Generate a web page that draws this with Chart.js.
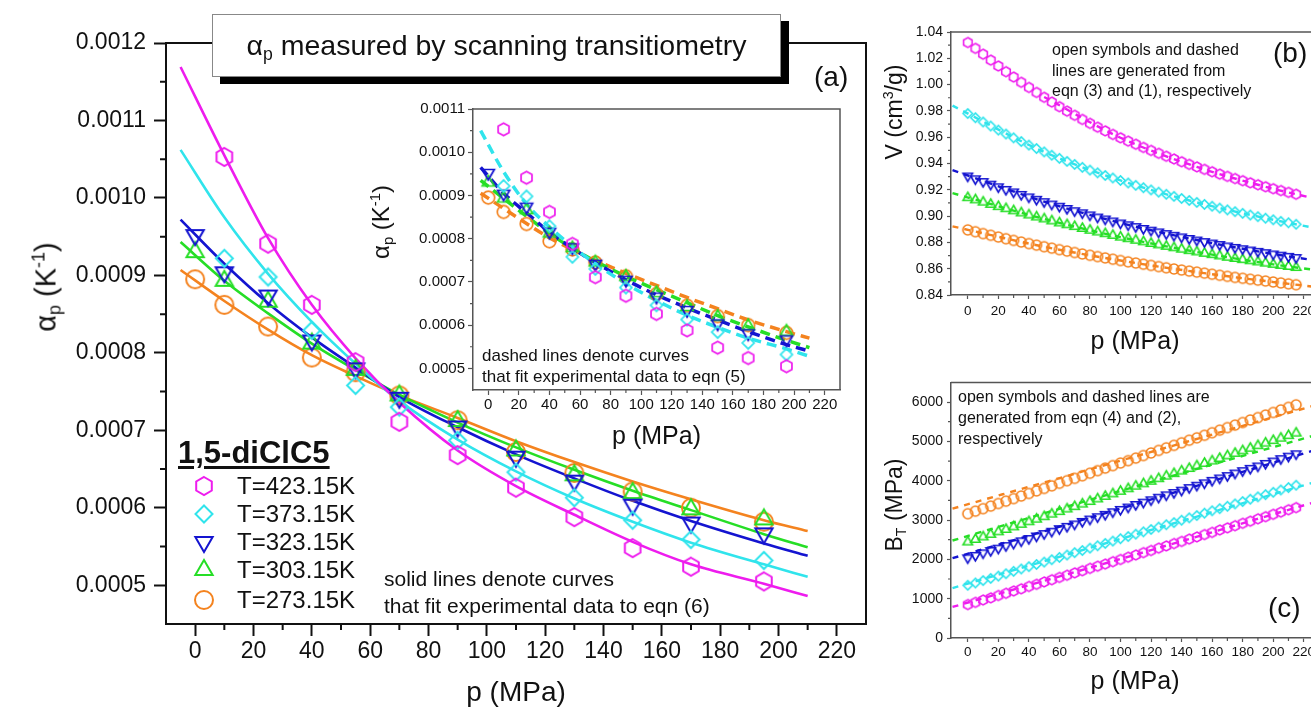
<!DOCTYPE html>
<html lang="en">
<head>
<meta charset="utf-8">
<title>alpha_p, V and B_T of 1,5-diClC5</title>
<script src="https://cdn.jsdelivr.net/npm/chart.js@4.4.1/dist/chart.umd.min.js"></script>
<style>
  html, body { margin: 0; padding: 0; overflow: hidden; background: #fff; }
  body { position: relative; width: 1311px; height: 710px; font-family: 'Liberation Sans', Arial, sans-serif; color: #111; }
  canvas { position: absolute; }
  .t { position: absolute; white-space: nowrap; line-height: 1; }
  .yt { position: absolute; white-space: nowrap; line-height: 1; transform: translate(-50%, -50%) rotate(-90deg); }
  sub { font-size: 0.62em; vertical-align: -0.3em; line-height: 0; }
  sup { font-size: 0.62em; vertical-align: 0.6em; line-height: 0; }
  #ttl { position: absolute; left: 212px; top: 14px; width: 569px; height: 63px; box-sizing: border-box;
         border: 1px solid #888; background: #fff; box-shadow: 8px 7px 0 #000;
         font-size: 28.5px; line-height: 60px; text-align: center; }
  #leg { left: 178px; top: 437px; font-size: 31px; font-weight: bold;
         text-decoration: underline; text-decoration-thickness: 2.5px; text-underline-offset: 3px; }
</style>
</head>
<body>
<canvas id="cA" width="890" height="710" style="left:0;top:0"></canvas>
<canvas id="cIn" width="450" height="370" style="left:410px;top:90px"></canvas>
<canvas id="cB" width="450" height="370" style="left:880px;top:0"></canvas>
<canvas id="cC" width="450" height="340" style="left:880px;top:370px"></canvas>

<div id="ttl">&alpha;<sub>p</sub> measured by scanning transitiometry</div>
<div class="t" style="left:814px;top:63px;font-size:28px">(a)</div>
<div class="yt" style="left:46px;top:287px;font-size:29px">&alpha;<sub>p</sub> (K<sup>-1</sup>)</div>
<div class="yt" style="left:381px;top:222px;font-size:24px">&alpha;<sub>p</sub> (K<sup>-1</sup>)</div>

<div class="t" id="leg">1,5-diClC5</div>
<div class="t" style="left:237px;top:474px;font-size:24px">T=423.15K</div>
<div class="t" style="left:237px;top:502px;font-size:24px">T=373.15K</div>
<div class="t" style="left:237px;top:530px;font-size:24px">T=323.15K</div>
<div class="t" style="left:237px;top:558px;font-size:24px">T=303.15K</div>
<div class="t" style="left:237px;top:588px;font-size:24px">T=273.15K</div>

<div class="t" style="left:384px;top:568px;font-size:21px">solid lines denote curves</div>
<div class="t" style="left:384px;top:595px;font-size:21px">that fit experimental data to eqn (6)</div>
<div class="t" style="left:482px;top:347px;font-size:17px">dashed lines denote curves</div>
<div class="t" style="left:482px;top:368px;font-size:17px">that fit experimental data to eqn (5)</div>

<div class="yt" style="left:894px;top:112px;font-size:23px">V (cm<sup>3</sup>/g)</div>
<div class="t" style="left:1052px;top:42px;font-size:16px">open symbols and dashed</div>
<div class="t" style="left:1052px;top:63px;font-size:16px">lines are generated from</div>
<div class="t" style="left:1052px;top:83px;font-size:16px">eqn (3) and (1), respectively</div>
<div class="t" style="left:1273px;top:39px;font-size:28px">(b)</div>

<div class="yt" style="left:894px;top:505px;font-size:23px">B<sub>T</sub> (MPa)</div>
<div class="t" style="left:958px;top:389px;font-size:16px">open symbols and dashed lines are</div>
<div class="t" style="left:958px;top:410px;font-size:16px">generated from eqn (4) and (2),</div>
<div class="t" style="left:958px;top:431px;font-size:16px">respectively</div>
<div class="t" style="left:1268px;top:594px;font-size:28px">(c)</div>

<script>
// ---------- data ----------
const SERIES = ['T=423.15K', 'T=373.15K', 'T=323.15K', 'T=303.15K', 'T=273.15K'];

// (a) + inset: measured alpha_p (K^-1)
const P_EXP = [0, 10, 25, 40, 55, 70, 90, 110, 130, 150, 170, 195];
const A_423 = [null, 0.001053, 0.000941, 0.000862, 0.000788, 0.000711, 0.000668, 0.000626, 0.000588, 0.000548, 0.000524, 0.000505];
const A_373 = [null, 0.000922, 0.000898, 0.000829, 0.000758, 0.000730, 0.000687, 0.000646, 0.000613, 0.000584, 0.000559, 0.000532];
const A_323 = [0.000952, 0.000904, 0.000874, 0.000816, 0.000780, 0.000742, 0.000705, 0.000666, 0.000635, 0.000604, 0.000581, 0.000567];
const A_303 = [0.000930, 0.000893, 0.000866, 0.000812, 0.000778, 0.000745, 0.000712, 0.000674, 0.000642, 0.000619, 0.000598, 0.000585];
const A_273 = [0.000895, 0.000862, 0.000834, 0.000794, 0.000775, 0.000745, 0.000713, 0.000672, 0.000645, 0.000621, 0.000600, 0.000582];

// (a) solid curves, eqn (6)
const P_FIT = [-5, 10, 25, 40, 55, 70, 90, 110, 130, 150, 170, 195, 210];
const F6_423 = [0.001169, 0.001055, 0.000948, 0.000862, 0.000793, 0.000736, 0.000674, 0.000628, 0.000591, 0.000556, 0.000527, 0.000502, 0.000486];
const F6_373 = [0.001062, 0.000975, 0.000902, 0.000840, 0.000786, 0.000738, 0.000688, 0.000647, 0.000612, 0.000582, 0.000555, 0.000527, 0.000511];
const F6_323 = [0.000972, 0.000915, 0.000864, 0.000820, 0.000781, 0.000743, 0.000704, 0.000669, 0.000638, 0.000609, 0.000583, 0.000554, 0.000538];
const F6_303 = [0.000943, 0.000893, 0.000851, 0.000812, 0.000778, 0.000746, 0.000710, 0.000678, 0.000649, 0.000622, 0.000597, 0.000566, 0.000549];
const F6_273 = [0.000907, 0.000867, 0.000830, 0.000797, 0.000770, 0.000745, 0.000716, 0.000686, 0.000659, 0.000634, 0.000611, 0.000584, 0.000570];

// inset dashed curves, eqn (5)
const F5_373 = [0.001050, 0.000955, 0.000880, 0.000827, 0.000782, 0.000742, 0.000696, 0.000657, 0.000623, 0.000595, 0.000570, 0.000545, 0.000528];
const F5_323 = [0.000965, 0.000905, 0.000860, 0.000815, 0.000778, 0.000745, 0.000705, 0.000670, 0.000640, 0.000612, 0.000585, 0.000555, 0.000540];
const F5_303 = [0.000935, 0.000893, 0.000852, 0.000812, 0.000778, 0.000748, 0.000713, 0.000682, 0.000652, 0.000622, 0.000596, 0.000565, 0.000548];
const F5_273 = [0.000905, 0.000870, 0.000835, 0.000802, 0.000775, 0.000750, 0.000720, 0.000692, 0.000664, 0.000638, 0.000612, 0.000585, 0.000570];

// (b), (c): generated points every 5 MPa
const P_GRID = [0, 5, 10, 15, 20, 25, 30, 35, 40, 45, 50, 55, 60, 65, 70, 75, 80, 85, 90, 95, 100,
  105, 110, 115, 120, 125, 130, 135, 140, 145, 150, 155, 160, 165, 170, 175, 180, 185, 190, 195, 200, 205, 210, 215];

const V_423 = [1.0320, 1.0275, 1.0231, 1.0186, 1.0141, 1.0098, 1.0057, 1.0017, 0.9978, 0.9940, 0.9903, 0.9867, 0.9832, 0.9798, 0.9766,
  0.9735, 0.9705, 0.9676, 0.9648, 0.9621, 0.9595, 0.9570, 0.9546, 0.9522, 0.9499, 0.9477, 0.9455, 0.9434, 0.9413, 0.9393,
  0.9374, 0.9355, 0.9337, 0.9319, 0.9302, 0.9285, 0.9269, 0.9253, 0.9238, 0.9223, 0.9208, 0.9194, 0.9180, 0.9166];
const V_373 = [0.9780, 0.9748, 0.9716, 0.9685, 0.9654, 0.9624, 0.9595, 0.9567, 0.9540, 0.9514, 0.9488, 0.9463, 0.9439, 0.9416, 0.9393,
  0.9371, 0.9350, 0.9329, 0.9309, 0.9290, 0.9271, 0.9252, 0.9234, 0.9216, 0.9199, 0.9182, 0.9166, 0.9150, 0.9134, 0.9119,
  0.9104, 0.9089, 0.9075, 0.9061, 0.9047, 0.9034, 0.9021, 0.9008, 0.8996, 0.8984, 0.8972, 0.8960, 0.8949, 0.8938];
const V_323 = [0.9305, 0.9284, 0.9263, 0.9243, 0.9223, 0.9203, 0.9184, 0.9165, 0.9146, 0.9128, 0.9110, 0.9092, 0.9075, 0.9058, 0.9041,
  0.9025, 0.9009, 0.8993, 0.8978, 0.8963, 0.8948, 0.8934, 0.8920, 0.8906, 0.8893, 0.8880, 0.8867, 0.8854, 0.8842, 0.8830,
  0.8818, 0.8806, 0.8795, 0.8784, 0.8773, 0.8762, 0.8752, 0.8742, 0.8732, 0.8722, 0.8712, 0.8703, 0.8694, 0.8685];
const V_303 = [0.9140, 0.9123, 0.9106, 0.9089, 0.9072, 0.9056, 0.9040, 0.9024, 0.9008, 0.8993, 0.8978, 0.8963, 0.8948, 0.8934, 0.8920,
  0.8906, 0.8892, 0.8879, 0.8866, 0.8853, 0.8840, 0.8828, 0.8816, 0.8804, 0.8792, 0.8781, 0.8770, 0.8759, 0.8748, 0.8737,
  0.8727, 0.8717, 0.8707, 0.8697, 0.8687, 0.8678, 0.8669, 0.8660, 0.8651, 0.8642, 0.8633, 0.8625, 0.8617, 0.8609];
const V_273 = [0.8895, 0.8881, 0.8867, 0.8854, 0.8841, 0.8828, 0.8815, 0.8803, 0.8791, 0.8779, 0.8767, 0.8756, 0.8745, 0.8734, 0.8723,
  0.8712, 0.8702, 0.8692, 0.8682, 0.8672, 0.8662, 0.8652, 0.8643, 0.8634, 0.8625, 0.8616, 0.8607, 0.8598, 0.8590, 0.8582,
  0.8574, 0.8566, 0.8558, 0.8550, 0.8542, 0.8534, 0.8527, 0.8520, 0.8513, 0.8506, 0.8499, 0.8492, 0.8485, 0.8478];

// (b) dashed, eqn (1)
const P_DV = [-10, 50, 100, 150, 200, 225];
const DV_423 = [null, 0.9906, 0.9596, 0.9374, 0.9208, 0.9140];
const DV_373 = [0.9840, 0.9488, 0.9271, 0.9104, 0.8972, 0.8915];
const DV_323 = [0.9350, 0.9110, 0.8948, 0.8818, 0.8712, 0.8668];
const DV_303 = [0.9175, 0.8978, 0.8840, 0.8727, 0.8633, 0.8594];
const DV_273 = [0.8922, 0.8767, 0.8662, 0.8574, 0.8499, 0.8465];

const BT_423 = [850, 905, 965, 1020, 1080, 1135, 1195, 1250, 1310, 1365, 1425, 1480, 1540, 1595, 1655, 1710, 1770, 1825, 1880, 1940,
  1995, 2055, 2110, 2170, 2225, 2285, 2340, 2400, 2455, 2515, 2570, 2630, 2685, 2745, 2800, 2855, 2915, 2970, 3030, 3085, 3145, 3200, 3260, 3315];
const BT_373 = [1340, 1400, 1460, 1515, 1575, 1635, 1695, 1755, 1815, 1870, 1930, 1990, 2050, 2110, 2170, 2225, 2285, 2345, 2405, 2465,
  2525, 2580, 2640, 2700, 2760, 2820, 2880, 2935, 2995, 3055, 3115, 3175, 3235, 3290, 3350, 3410, 3470, 3530, 3590, 3645, 3705, 3765, 3825, 3885];
const BT_323 = [2040, 2100, 2165, 2225, 2285, 2350, 2410, 2470, 2530, 2595, 2655, 2715, 2780, 2840, 2900, 2965, 3025, 3085, 3145, 3210,
  3270, 3330, 3395, 3455, 3515, 3580, 3640, 3700, 3760, 3825, 3885, 3945, 4010, 4070, 4130, 4195, 4255, 4315, 4375, 4440, 4500, 4560, 4625, 4685];
const BT_303 = [2440, 2505, 2570, 2635, 2700, 2760, 2825, 2890, 2955, 3020, 3085, 3150, 3215, 3280, 3340, 3405, 3470, 3535, 3600, 3665,
  3730, 3795, 3860, 3920, 3985, 4050, 4115, 4180, 4245, 4310, 4375, 4440, 4500, 4565, 4630, 4695, 4760, 4825, 4890, 4955, 5020, 5080, 5145, 5210];
const BT_273 = [3160, 3225, 3290, 3355, 3420, 3480, 3545, 3610, 3675, 3740, 3805, 3870, 3935, 4000, 4060, 4125, 4190, 4255, 4320, 4385,
  4450, 4510, 4575, 4640, 4705, 4770, 4835, 4900, 4965, 5030, 5090, 5155, 5220, 5285, 5350, 5415, 5480, 5545, 5605, 5670, 5735, 5800, 5865, 5930];

// (c) dashed, eqn (2)
const P_DB = [-10, 100, 225];
const DB_423 = [790, 2010, 3430];
const DB_373 = [1270, 2520, 3940];
const DB_323 = [2030, 3290, 4750];
const DB_303 = [2480, 3740, 5130];
const DB_273 = [3290, 4510, 5890];

// tick values
const X_TICKS = [0, 20, 40, 60, 80, 100, 120, 140, 160, 180, 200, 220];
const X_MINOR = [10, 30, 50, 70, 90, 110, 130, 150, 170, 190, 210];
const A_TICKS = [0.0005, 0.0006, 0.0007, 0.0008, 0.0009, 0.0010, 0.0011, 0.0012];
const A_MINOR = [0.00055, 0.00065, 0.00075, 0.00085, 0.00095, 0.00105, 0.00115];
const IN_TICKS = [0.0005, 0.0006, 0.0007, 0.0008, 0.0009, 0.0010, 0.0011];
const IN_MINOR = [0.00055, 0.00065, 0.00075, 0.00085, 0.00095, 0.00105];
const V_TICKS = [0.84, 0.86, 0.88, 0.90, 0.92, 0.94, 0.96, 0.98, 1.00, 1.02, 1.04];
const V_MINOR = [0.85, 0.87, 0.89, 0.91, 0.93, 0.95, 0.97, 0.99, 1.01, 1.03];
const B_TICKS = [0, 1000, 2000, 3000, 4000, 5000, 6000];
const B_MINOR = [500, 1500, 2500, 3500, 4500, 5500];

// ---------- styles ----------
const COLORS = ['#ee1cee', '#30e4ec', '#1414d0', '#26de26', '#f4831f'];
const KINDS = ['hex', 'diamond', 'down', 'up', 'circle'];
const BASE_R = { hex: 9, diamond: 8.5, down: 10, up: 10, circle: 9 };
const FONT = "'Liberation Sans', Arial, sans-serif";
const INK = '#111';

Chart.defaults.font.family = FONT;
Chart.defaults.color = INK;

function drawMark(ctx, kind, x, y, r, color, lw) {
  ctx.save();
  ctx.strokeStyle = color;
  ctx.lineWidth = lw;
  ctx.beginPath();
  if (kind === 'circle') {
    ctx.arc(x, y, r, 0, 2 * Math.PI);
  } else {
    const n = { hex: 6, diamond: 4, up: 3, down: 3 }[kind];
    const a0 = kind === 'down' ? Math.PI / 2 : -Math.PI / 2;
    for (let i = 0; i < n; i++) {
      const a = a0 + 2 * Math.PI * i / n;
      const px = x + r * Math.cos(a), py = y + r * Math.sin(a);
      if (i) ctx.lineTo(px, py); else ctx.moveTo(px, py);
    }
    ctx.closePath();
  }
  ctx.stroke();
  ctx.restore();
}

function markImg(kind, r, color, lw) {
  const s = Math.ceil(2 * r + lw + 4);
  const c = document.createElement('canvas');
  c.width = c.height = s;
  drawMark(c.getContext('2d'), kind, s / 2, s / 2, r, color, lw);
  return c;
}

function pts(xs, ys) {
  return xs.map((x, i) => ({ x: x, y: ys[i] })).filter(d => d.y != null);
}

function markerSet(xs, ys, i, scale, lw) {
  const k = KINDS[i];
  return {
    label: SERIES[i], data: pts(xs, ys), showLine: false,
    pointStyle: markImg(k, BASE_R[k] * scale, COLORS[i], lw),
    pointRadius: BASE_R[k] * scale, pointHoverRadius: 0
  };
}

function curveSet(xs, ys, i, width, dash) {
  return {
    label: SERIES[i], data: pts(xs, ys), borderColor: COLORS[i], borderWidth: width,
    borderDash: dash || [], pointRadius: 0, fill: false, cubicInterpolationMode: 'monotone'
  };
}

// frame on top/right + short minor ticks
const framePlugin = {
  id: 'frame',
  afterDraw(chart, args, o) {
    const { ctx, chartArea: a } = chart;
    const xs = chart.scales.x, ys = chart.scales.y;
    ctx.save();
    ctx.strokeStyle = o.color;
    ctx.lineWidth = o.width;
    ctx.beginPath();
    ctx.moveTo(a.left, a.top);
    ctx.lineTo(a.right, a.top);
    ctx.lineTo(a.right, a.bottom);
    ctx.stroke();
    ctx.lineWidth = o.tickWidth;
    ctx.beginPath();
    o.xMinor.forEach(v => {
      const px = xs.getPixelForValue(v);
      ctx.moveTo(px, a.bottom); ctx.lineTo(px, a.bottom + o.minor);
    });
    o.yMinor.forEach(v => {
      const py = ys.getPixelForValue(v);
      ctx.moveTo(a.left, py); ctx.lineTo(a.left - o.minor, py);
    });
    ctx.stroke();
    ctx.restore();
  }
};

function axes(o) {
  return {
    x: {
      type: 'linear', min: o.xmin, max: o.xmax,
      afterBuildTicks: s => { s.ticks = X_TICKS.map(v => ({ value: v })); },
      afterFit: s => { s.height = o.xh; },
      ticks: { color: INK, font: { size: o.xfs }, padding: o.xpad, maxRotation: 0, autoSkip: false, callback: v => String(v) },
      grid: { drawOnChartArea: false, tickLength: o.tl, tickWidth: o.tw, tickColor: o.ink },
      border: { color: o.ink, width: o.bw },
      title: { display: true, text: 'p (MPa)', color: INK, font: { size: o.tfs }, padding: { top: 0, bottom: o.tpb } }
    },
    y: {
      type: 'linear', min: o.ymin, max: o.ymax,
      afterBuildTicks: s => { s.ticks = o.yticks.map(v => ({ value: v })); },
      afterFit: s => { s.width = o.yw; },
      ticks: { color: INK, font: { size: o.yfs }, padding: o.ypad, autoSkip: false, callback: v => v.toFixed(o.dec) },
      grid: { drawOnChartArea: false, tickLength: o.tl, tickWidth: o.tw, tickColor: o.ink },
      border: { color: o.ink, width: o.bw }
    }
  };
}

function common(pad, frame) {
  return {
    responsive: false, animation: false, events: [],
    layout: { padding: pad },
    plugins: { legend: { display: false }, tooltip: { enabled: false }, frame: frame }
  };
}

// ---------- (a) main panel ----------
const ALPHA = [A_423, A_373, A_323, A_303, A_273];
const FIT6 = [F6_423, F6_373, F6_323, F6_303, F6_273];

const legendMarks = {
  id: 'legendMarks',
  afterDraw(chart) {
    const ys = [486, 514, 542, 570, 600];
    KINDS.forEach((k, i) => drawMark(chart.ctx, k, 204, ys[i], BASE_R[k], COLORS[i], 2));
  }
};

new Chart(document.getElementById('cA'), {
  type: 'line',
  data: {
    datasets: [
      ...ALPHA.map((a, i) => markerSet(P_EXP, a, i, 1, 2)),
      ...FIT6.map((f, i) => curveSet(P_FIT, f, i, 2.6))
    ]
  },
  options: Object.assign(common({ left: 0, top: 43, right: 24, bottom: 0 },
      { color: INK, width: 2, tickWidth: 2, minor: 6, xMinor: X_MINOR, yMinor: A_MINOR }), {
    scales: axes({ xmin: -10, xmax: 230, ymin: 0.00045, ymax: 0.0012, yticks: A_TICKS, dec: 4,
      xh: 86, yw: 166, xfs: 23, yfs: 23, xpad: 2, ypad: 8, tl: 12, tw: 2, bw: 2, ink: INK, tfs: 28, tpb: 0 })
  }),
  plugins: [framePlugin, legendMarks]
});

// ---------- inset ----------
const FIT5 = [null, F5_373, F5_323, F5_303, F5_273];
new Chart(document.getElementById('cIn'), {
  type: 'line',
  data: {
    datasets: [
      ...ALPHA.map((a, i) => markerSet(P_EXP, a, i, 0.7, 1.7)),
      ...FIT5.map((f, i) => f ? curveSet(P_FIT, f, i, 3.5, [10, 6]) : null).filter(Boolean)
    ]
  },
  options: Object.assign(common({ left: 0, top: 19, right: 20, bottom: 0 },
      { color: '#555', width: 1.5, tickWidth: 1.2, minor: 3, xMinor: X_MINOR, yMinor: IN_MINOR }), {
    scales: axes({ xmin: -10, xmax: 230, ymin: 0.00045, ymax: 0.0011, yticks: IN_TICKS, dec: 4,
      xh: 70, yw: 63, xfs: 15, yfs: 15, xpad: 1, ypad: 3, tl: 5, tw: 1.2, bw: 1.5, ink: '#555', tfs: 25, tpb: 8 })
  }),
  plugins: [framePlugin]
});

// ---------- (b) specific volume ----------
const VOL = [V_423, V_373, V_323, V_303, V_273];
const DVOL = [DV_423, DV_373, DV_323, DV_303, DV_273];
new Chart(document.getElementById('cB'), {
  type: 'line',
  data: {
    datasets: [
      ...VOL.map((v, i) => markerSet(P_GRID, v, i, 0.55, 1.6)),
      ...DVOL.map((d, i) => curveSet(P_DV, d, i, 2.4, [6, 6]))
    ]
  },
  options: Object.assign(common({ left: 0, top: 32, right: 11, bottom: 0 },
      { color: '#555', width: 1.5, tickWidth: 1.2, minor: 3, xMinor: X_MINOR, yMinor: V_MINOR }), {
    scales: axes({ xmin: -11, xmax: 230, ymin: 0.84, ymax: 1.04, yticks: V_TICKS, dec: 2,
      xh: 75, yw: 71, xfs: 13.5, yfs: 14, xpad: 4, ypad: 4, tl: 4, tw: 1.2, bw: 1.5, ink: '#555', tfs: 25, tpb: 13 })
  }),
  plugins: [framePlugin]
});

// ---------- (c) bulk modulus ----------
const BT = [BT_423, BT_373, BT_323, BT_303, BT_273];
const DBT = [DB_423, DB_373, DB_323, DB_303, DB_273];
new Chart(document.getElementById('cC'), {
  type: 'line',
  data: {
    datasets: [
      ...BT.map((v, i) => markerSet(P_GRID, v, i, 0.55, 1.6)),
      ...DBT.map((d, i) => curveSet(P_DB, d, i, 2.4, [6, 6]))
    ]
  },
  options: Object.assign(common({ left: 0, top: 12, right: 11, bottom: 0 },
      { color: '#555', width: 1.5, tickWidth: 1.2, minor: 3, xMinor: X_MINOR, yMinor: B_MINOR }), {
    scales: axes({ xmin: -11, xmax: 230, ymin: 0, ymax: 6500, yticks: B_TICKS, dec: 0,
      xh: 72, yw: 71, xfs: 13.5, yfs: 14, xpad: 2, ypad: 4, tl: 4, tw: 1.2, bw: 1.5, ink: '#555', tfs: 25, tpb: 13 })
  }),
  plugins: [framePlugin]
});
</script>
</body>
</html>
